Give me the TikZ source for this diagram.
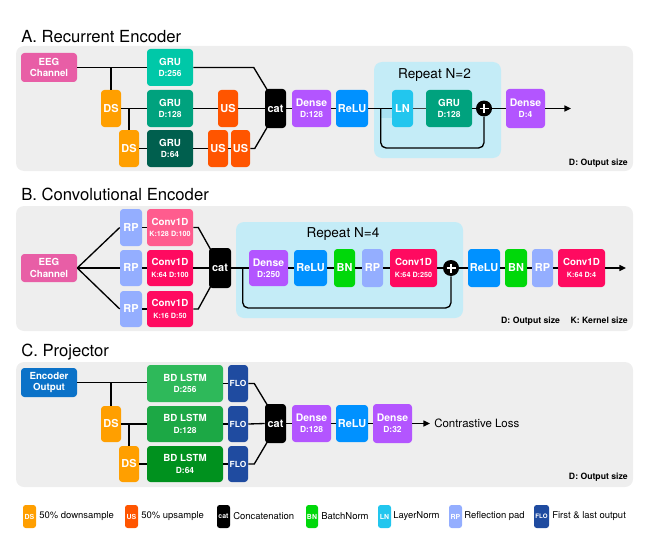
\documentclass[tikz,border=0pt]{standalone}
\usepackage{fontspec}
\setmainfont{TeX Gyre Heros}
\usetikzlibrary{arrows.meta,calc}
\definecolor{panel}{HTML}{EEEEEE}
\definecolor{rep}{HTML}{C4ECF7}
\definecolor{eeg}{HTML}{E85EA6}
\definecolor{gruA}{HTML}{00C8A8}
\definecolor{gruB}{HTML}{00A27E}
\definecolor{gruC}{HTML}{005F4E}
\definecolor{dsc}{HTML}{FF9F00}
\definecolor{usc}{HTML}{FF5500}
\definecolor{dense}{HTML}{B355FF}
\definecolor{relu}{HTML}{0091FF}
\definecolor{lnc}{HTML}{22C6EE}
\definecolor{rpc}{HTML}{94AEFF}
\definecolor{convL}{HTML}{FF5C8E}
\definecolor{conv}{HTML}{FF0A60}
\definecolor{bnc}{HTML}{00D80A}
\definecolor{enc}{HTML}{0B72C8}
\definecolor{lstmA}{HTML}{2EB95A}
\definecolor{lstmB}{HTML}{1CA845}
\definecolor{lstmC}{HTML}{00911E}
\definecolor{flo}{HTML}{1F4BA0}
\definecolor{lnlight}{HTML}{A9E1F3}
\newcommand\bx[7]{\node[blk,#1,minimum width={(#5-#3)*0.75pt},minimum height={(#6-#4)*0.75pt}] (#2) at ({(#3+#5)/2},{(#4+#6)/2}) {#7};}
\newcommand\sbl[1]{{\fontsize{6.3}{8.5}\selectfont\bfseries #1}}
\newcommand\ssbl[1]{{\fontsize{5.4}{7.5}\selectfont\bfseries #1}}
\newcommand\dns{{\fontsize{7.8}{9}\selectfont\bfseries Dense}}
\tikzset{
  blk/.style={rounded corners=2.5pt, inner sep=0pt, align=center, text=white, font=\fontsize{7.3}{8.5}\selectfont\bfseries},
  big/.style={font=\fontsize{8.2}{9}\selectfont\bfseries},
  ln/.style={line width=1pt},
  arr/.style={line width=1pt,-{Triangle[length=5pt,width=4.5pt]}},
  ttl/.style={anchor=base west, inner sep=0pt, font=\fontsize{12.5}{13}\selectfont},
  rpt/.style={inner sep=0pt, font=\fontsize{10.2}{11}\selectfont},
  note/.style={anchor=base east, inner sep=0pt, font=\fontsize{6.5}{7}\selectfont\bfseries},
  lgt/.style={anchor=west, inner sep=0pt, font=\fontsize{7.1}{8}\selectfont},
  lgi/.style={rounded corners=2pt, font=\fontsize{5.2}{6}\selectfont\bfseries},
  plus/.style={circle, fill=black, minimum size=12pt, inner sep=0pt,
    path picture={\draw[white,line width=1.1pt]
      ($(path picture bounding box.center)+(-4.5,0)$) -- ++(9,0)
      ($(path picture bounding box.center)+(0,-4.5)$) -- ++(0,9);}},
}
\begin{document}
\begin{tikzpicture}[x=0.75pt,y=-0.75pt]
\useasboundingbox (0,0) rectangle (660,542);
% ---------------- Panel A ----------------
\node[ttl] (ttlA) at (21,42.7) {A. Recurrent Encoder};
\fill[panel, rounded corners=6pt] (16,46) rectangle (633,171);
\fill[rep, rounded corners=6pt] (374,62) rectangle (501,158);
\node[rpt] (rptA) at (434.5,75) {Repeat N=2};
\fill[lnlight] (381,109) rectangle (392,118);
\bx{fill=eeg}{eegA}{21}{53}{77}{82}{EEG\\Channel}
\bx{fill=gruA}{gruA1}{147}{49}{193}{86}{GRU\\\sbl{D:256}}
\bx{fill=dsc,big}{dsA1}{101}{90}{121}{127}{DS}
\bx{fill=gruB}{gruA2}{147}{90}{193}{127}{GRU\\\sbl{D:128}}
\bx{fill=usc,big}{usA1}{218}{90}{238}{127}{US}
\bx{fill=dsc,big}{dsA2}{119}{130}{139}{167}{DS}
\bx{fill=gruC}{gruA3}{147}{130}{193}{167}{GRU\\\sbl{D:64}}
\bx{fill=usc,big}{usA2}{208}{130}{228}{167}{US}
\bx{fill=usc,big}{usA3}{231}{130}{250}{167}{US}
\bx{fill=black,big}{catA}{265}{89}{286}{128}{cat}
\bx{fill=dense}{denseA1}{292}{90}{331}{127}{\dns\\\sbl{D:128}}
\bx{fill=relu,big}{reluA}{336}{90}{368}{127}{ReLU}
\bx{fill=lnc,big}{lnA}{392}{90}{413}{127}{LN}
\bx{fill=gruB}{gruA4}{426}{90}{472}{127}{GRU\\\sbl{D:128}}
\node[plus] (plusA) at (484,108.5) {};
\bx{fill=dense}{denseA2}{506}{89}{545}{128}{\dns\\\sbl{D:4}}
\coordinate (outA) at (571,108.5);
\node[note] (noteA) at (628,165) {D: Output size};
\draw[ln] (eegA.east) -- (gruA1.west);
\draw[ln] (dsA1.north) -- (dsA1.north |- eegA.east);
\draw[ln] (dsA1.east) -- (gruA2.west);
\draw[ln] (dsA2.north) -- (dsA2.north |- dsA1.east);
\draw[ln] (dsA2.east) -- (gruA3.west);
\draw[ln] (gruA2.east) -- (usA1.west);
\draw[ln] (usA1.east) -- (catA.west);
\draw[ln] (gruA3.east) -- (usA2.west);
\draw[ln] (usA2.east) -- (usA3.west);
\draw[ln] (gruA1.east) -- ($(catA.north west |- gruA1.east)+(-11,0)$) -- ($(catA.north west)+(3,2)$);
\draw[ln] (usA3.east) -- ($(catA.south west |- usA3.east)+(-10,0)$) -- ($(catA.south west)+(3,-2)$);
\draw[ln] (catA.east) -- (denseA1.west);
\draw[ln] (denseA1.east) -- (reluA.west);
\draw[ln] (reluA.east) -- (lnA.west);
\draw[line width=0.8pt, black!75] (lnA.east) -- (gruA4.west);
\draw[ln] (gruA4.east) -- (plusA.west);
\draw[ln] (plusA.east) -- (denseA2.west);
\draw[arr] (denseA2.east) -- (outA);
\draw[ln,rounded corners=4] ($(lnA.west)+(-11,0)$) -- ++(0,39.5) -| (plusA.south);
% ---------------- Panel B ----------------
\node[ttl] (ttlB) at (21,200.7) {B. Convolutional Encoder};
\fill[panel, rounded corners=6pt] (16,206) rectangle (633,331);
\fill[rep, rounded corners=6pt] (236,222) rectangle (463,318);
\node[rpt] (rptB) at (343,234) {Repeat N=4};
\bx{fill=eeg}{eegB}{21}{254}{77}{282}{EEG\\Channel}
\bx{fill=rpc,big}{rpB1}{120}{209}{142}{246}{RP}
\bx{fill=convL}{convB1}{147}{209}{193}{246}{Conv1D\\\ssbl{K:128 D:100}}
\bx{fill=rpc,big}{rpB2}{120}{250}{142}{286}{RP}
\bx{fill=conv}{convB2}{147}{250}{193}{286}{Conv1D\\\ssbl{K:64 D:100}}
\bx{fill=rpc,big}{rpB3}{120}{291}{142}{327}{RP}
\bx{fill=conv}{convB3}{147}{291}{193}{327}{Conv1D\\\ssbl{K:16 D:50}}
\bx{fill=black,big}{catB}{209}{248}{231}{288}{cat}
\bx{fill=dense}{denseB1}{249}{250}{288}{286}{\dns\\\sbl{D:250}}
\bx{fill=relu,big}{reluB1}{294}{250}{327}{286}{ReLU}
\bx{fill=bnc,big}{bnB1}{334}{249}{355}{287}{BN}
\bx{fill=rpc,big}{rpB4}{362}{249}{383}{287}{RP}
\bx{fill=conv}{convB4}{390}{249}{437}{287}{Conv1D\\\ssbl{K:64 D:250}}
\node[plus] (plusB) at (451,268) {};
\bx{fill=relu,big}{reluB2}{468}{249}{500}{287}{ReLU}
\bx{fill=bnc,big}{bnB2}{505}{249}{527}{287}{BN}
\bx{fill=rpc,big}{rpB5}{532}{249}{553}{287}{RP}
\bx{fill=conv}{convB5}{558}{249}{605}{287}{Conv1D\\\ssbl{K:64 D:4}}
\coordinate (outB) at (626,268);
\node[note] (noteB) at (628,323) {D: Output size\hspace{8pt}K: Kernel size};
\draw[ln] (eegB.east) -- (rpB1.west);
\draw[ln] (eegB.east) -- (rpB2.west);
\draw[ln] (eegB.east) -- (rpB3.west);
\draw[ln] (rpB1.east) -- (convB1.west);
\draw[ln] (rpB2.east) -- (convB2.west);
\draw[ln] (rpB3.east) -- (convB3.west);
\draw[ln] (convB1.east) -- ++(5,0) -- ($(catB.north west)+(2,2)$);
\draw[ln] (convB2.east) -- (catB.west);
\draw[ln] (convB3.east) -- ++(5,0) -- ($(catB.south west)+(2,-2)$);
\draw[ln] (catB.east) -- (denseB1.west);
\draw[ln] (denseB1.east) -- (reluB1.west);
\draw[ln] (reluB1.east) -- (bnB1.west);
\draw[ln] (bnB1.east) -- (rpB4.west);
\draw[ln] (rpB4.east) -- (convB4.west);
\draw[ln] (convB4.east) -- (plusB.west);
\draw[ln] (plusB.east) -- (reluB2.west);
\draw[ln] (reluB2.east) -- (bnB2.west);
\draw[ln] (bnB2.east) -- (rpB5.west);
\draw[ln] (rpB5.east) -- (convB5.west);
\draw[arr] (convB5.east) -- (outB);
\draw[ln,rounded corners=4] ($(denseB1.west)+(-6,0)$) -- ++(0,40) -| (plusB.south);
% ---------------- Panel C ----------------
\node[ttl] (ttlC) at (21,356.7) {C. Projector};
\fill[panel, rounded corners=6pt] (16,362) rectangle (633,487);
\bx{fill=enc}{encC}{21}{368}{77}{397}{Encoder\\Output}
\bx{fill=lstmA}{lstmC1}{147}{365}{223}{402}{BD LSTM\\\sbl{D:256}}
\bx{fill=flo}{floC1}{228}{365}{248}{402}{\sbl{FLO}}
\bx{fill=dsc,big}{dsC1}{101}{406}{121}{442}{DS}
\bx{fill=lstmB}{lstmC2}{147}{406}{223}{442}{BD LSTM\\\sbl{D:128}}
\bx{fill=flo}{floC2}{228}{406}{248}{442}{\sbl{FLO}}
\bx{fill=dsc,big}{dsC2}{119}{446}{139}{482}{DS}
\bx{fill=lstmC}{lstmC3}{147}{446}{223}{482}{BD LSTM\\\sbl{D:64}}
\bx{fill=flo}{floC3}{228}{446}{248}{482}{\sbl{FLO}}
\bx{fill=black,big}{catC}{265}{404}{286}{443}{cat}
\bx{fill=dense}{denseC1}{292}{405}{331}{442}{\dns\\\sbl{D:128}}
\bx{fill=relu,big}{reluC}{336}{405}{368}{442}{ReLU}
\bx{fill=dense}{denseC2}{373}{404}{412}{443}{\dns\\\sbl{D:32}}
\coordinate (outC) at (430,423.5);
\node[anchor=west, inner sep=0pt, font=\fontsize{8.6}{9}\selectfont] (lossC) at (434,423.5) {Contrastive Loss};
\node[note] (noteC) at (628,479) {D: Output size};
\draw[ln] (encC.east) -- (encC.east -| lstmC1.west);
\draw[ln] (dsC1.north) -- (dsC1.north |- encC.east);
\draw[ln] (dsC1.east) -- (lstmC2.west);
\draw[ln] (dsC2.north) -- (dsC2.north |- dsC1.east);
\draw[ln] (dsC2.east) -- (lstmC3.west);
\draw[ln] (lstmC1.east) -- (floC1.west);
\draw[ln] (lstmC2.east) -- (floC2.west);
\draw[ln] (lstmC3.east) -- (floC3.west);
\draw[ln] (floC1.east) -- ++(6,0) -- ($(catC.north west)+(3,2)$);
\draw[ln] (floC2.east) -- (catC.west);
\draw[ln] (floC3.east) -- ++(6,0) -- ($(catC.south west)+(3,-2)$);
\draw[ln] (catC.east) -- (denseC1.west);
\draw[ln] (denseC1.east) -- (reluC.west);
\draw[ln] (reluC.east) -- (denseC2.west);
\draw[arr] (denseC2.east) -- (outC);
% ---------------- Legend ----------------
\bx{fill=dsc,lgi}{lgDS}{23}{505}{36}{528}{DS}
\node[lgt] (lgDSt) at (39,516.5) {50\% downsample};
\bx{fill=usc,lgi}{lgUS}{125}{505}{138}{528}{US}
\node[lgt] (lgUSt) at (141,516.5) {50\% upsample};
\bx{fill=black,lgi}{lgCat}{217}{505}{230}{528}{cat}
\node[lgt] (lgCatt) at (233,516.5) {Concatenation};
\bx{fill=bnc,lgi}{lgBN}{306}{505}{318}{528}{BN}
\node[lgt] (lgBNt) at (321,516.5) {BatchNorm};
\bx{fill=lnc,lgi}{lgLN}{378}{505}{391}{528}{LN}
\node[lgt] (lgLNt) at (393,516.5) {LayerNorm};
\bx{fill=rpc,lgi}{lgRP}{449}{505}{462}{528}{RP}
\node[lgt] (lgRPt) at (464,516.5) {Reflection pad};
\bx{fill=flo,lgi,font=\fontsize{4.6}{5}\selectfont\bfseries}{lgFLO}{534}{505}{549}{528}{FLO}
\node[lgt] (lgFLOt) at (552,516.5) {First \& last output};
\end{tikzpicture}
\end{document}
